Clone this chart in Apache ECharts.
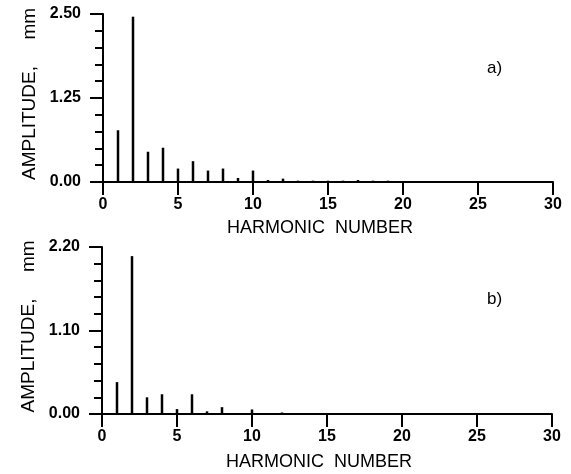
<!DOCTYPE html>
<html>
<head>
<meta charset="utf-8">
<script src="https://cdn.jsdelivr.net/npm/echarts@6/dist/echarts.min.js"></script>
<style>
  html, body { margin: 0; padding: 0; background: #fff; }
  #main { width: 571px; height: 474px; }
</style>
</head>
<body>
<div id="main"></div>
<script>
// harmonic numbers (x values)
var harmonics = [1, 2, 3, 4, 5, 6, 7, 8, 9, 10, 11, 12, 13, 14, 15,
  16, 17, 18, 19, 20, 21, 22, 23, 24, 25, 26, 27, 28, 29, 30];
// amplitude, mm - panel a)
var ampA = [0.77, 2.46, 0.45, 0.51, 0.20, 0.31, 0.17, 0.20, 0.06, 0.17,
  0.03, 0.05, 0.02, 0.02, 0.02, 0.02, 0.03, 0.02, 0.02, 0.01,
  0.01, 0.01, 0.01, 0.01, 0.01, 0.01, 0.01, 0.01, 0.01, 0.0];
// amplitude, mm - panel b)
var ampB = [0.42, 2.08, 0.22, 0.26, 0.065, 0.26, 0.035, 0.09, 0.01, 0.06,
  0.005, 0.02, 0.005, 0.005, 0.0, 0.0, 0.0, 0.0, 0.0, 0.0,
  0.0, 0.0, 0.0, 0.0, 0.0, 0.0, 0.0, 0.0, 0.0, 0.0];
var xTicks = [0, 5, 10, 15, 20, 25, 30];
var yTicksA = [0, 1.25, 2.5];
var yTicksB = [0, 1.1, 2.2];
var panelNames = ['a)', 'b)'];

var chart = echarts.init(document.getElementById('main'), null, { renderer: 'canvas' });

var ink = '#000';
var tickFont = { color: ink, fontFamily: 'Liberation Sans', fontWeight: 'bold', fontSize: 16 };
var nameFont = { color: ink, fontFamily: 'Liberation Sans', fontSize: 18 };

function xAxisFor(idx, gap) {
  return {
    type: 'value',
    gridIndex: idx,
    min: xTicks[0],
    max: xTicks[xTicks.length - 1],
    interval: xTicks[1] - xTicks[0],
    name: 'HARMONIC  NUMBER',
    nameLocation: 'middle',
    nameGap: gap,
    nameTextStyle: Object.assign({ padding: [0, 16, 0, 0] }, nameFont),
    axisLine: { show: true, onZero: false, lineStyle: { color: ink, width: 2 } },
    axisTick: { show: true, inside: false, length: 13, lineStyle: { color: ink, width: 2 } },
    axisLabel: Object.assign({ margin: 15 }, tickFont),
    splitLine: { show: false }
  };
}

function yAxisFor(idx, ticks) {
  return {
    type: 'value',
    gridIndex: idx,
    min: ticks[0],
    max: ticks[2],
    interval: ticks[1],
    name: 'AMPLITUDE,     mm',
    nameLocation: 'middle',
    nameGap: 64,
    nameTextStyle: Object.assign({ padding: [0, 0, 0, 8] }, nameFont, { fontSize: 19 }),
    axisLine: { show: true, onZero: false, lineStyle: { color: ink, width: 2 } },
    axisTick: { show: true, inside: false, length: 13, lineStyle: { color: ink, width: 2 } },
    minorTick: { show: true, splitNumber: 5, length: 8, lineStyle: { color: ink, width: 2 } },
    axisLabel: Object.assign({ margin: 22, formatter: function (v) { return v.toFixed(2); } }, tickFont),
    splitLine: { show: false }
  };
}

function seriesFor(idx, values) {
  return {
    type: 'bar',
    xAxisIndex: idx,
    yAxisIndex: idx,
    barWidth: 2.5,
    itemStyle: { color: ink },
    data: harmonics.map(function (h, i) { return [h, values[i]]; })
  };
}

var option = {
  backgroundColor: '#fff',
  animation: false,
  title: [
    { text: panelNames[0], left: 482, top: 55, textStyle: { color: ink, fontFamily: 'Liberation Sans', fontWeight: 'normal', fontSize: 17 } },
    { text: panelNames[1], left: 482, top: 286, textStyle: { color: ink, fontFamily: 'Liberation Sans', fontWeight: 'normal', fontSize: 17 } }
  ],
  grid: [
    { left: 103, top: 14, width: 450, height: 168, outerBoundsMode: 'none' },
    { left: 102, top: 247, width: 450, height: 167, outerBoundsMode: 'none' }
  ],
  xAxis: [xAxisFor(0, 37), xAxisFor(1, 39)],
  yAxis: [yAxisFor(0, yTicksA), yAxisFor(1, yTicksB)],
  series: [seriesFor(0, ampA), seriesFor(1, ampB)]
};

chart.setOption(option);
</script>
</body>
</html>
